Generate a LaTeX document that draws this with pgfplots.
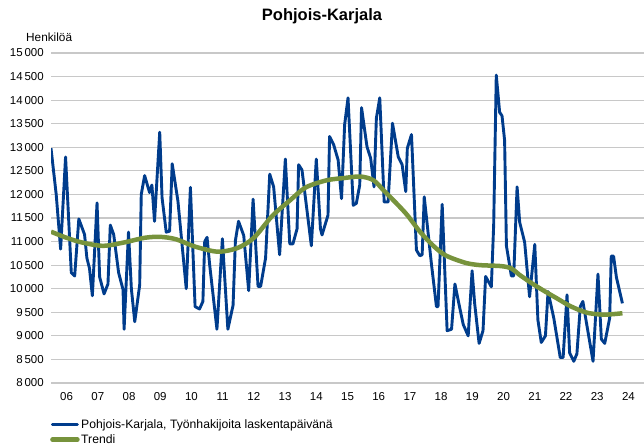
\documentclass[border=0pt]{standalone}
\usepackage{fontspec}
\setmainfont{Liberation Sans}
\usepackage{pgfplots}
\pgfplotsset{compat=1.18}
\definecolor{sblue}{RGB}{0,60,140}
\definecolor{sgreen}{RGB}{119,147,60}
\definecolor{sgrid}{RGB}{200,200,200}
\begin{document}
\begin{tikzpicture}
\useasboundingbox (0pt,0pt) rectangle (644pt,445pt);
\node[font=\bfseries\fontsize{16.5}{18}\selectfont] at (322pt,429pt) {Pohjois-Karjala};
\node[anchor=west,inner sep=0pt,font=\fontsize{11.8}{13}\selectfont] at (26pt,408pt) {Henkilöä};
\begin{axis}[
  at={(51pt,62pt)}, anchor=south west,
  scale only axis, width=593pt, height=330pt,
  xmin=0, xmax=228, ymin=8000, ymax=15000,
  axis line style={draw=none},
  major tick length=0pt,
  ytick={8000,8500,...,15000},
  ymajorgrids, grid style={sgrid, line width=1.2pt},
  xtick={6,18,...,222},
  xticklabels={06,07,08,09,10,11,12,13,14,15,16,17,18,19,20,21,22,23,24},
  scaled y ticks=false,
  /pgf/number format/assume math mode=true,
  yticklabel style={/pgf/number format/fixed, /pgf/number format/1000 sep={\,}, font=\fontsize{11.5}{13}\selectfont, inner sep=0pt, xshift=-7pt},
  xticklabel style={font=\fontsize{11.5}{13}\selectfont, inner sep=0pt, yshift=-9pt},
  legend style={at={(0,0)}, anchor=north west, xshift=-1pt, yshift=-35pt, draw=none, fill=none,
     font=\fontsize{12.2}{13}\selectfont, inner sep=0pt, row sep=1.5pt, nodes={inner sep=1.5pt}},
  legend cell align=left,
  legend image code/.code={\draw[#1, line cap=round] (0pt,0pt) -- (25pt,0pt);},
]
\addplot[sblue, line width=2.9pt, line join=round] coordinates {
(0,12980) (2.0,12000) (3.7,10840) (5.6,12795) (7.8,10340) (9.1,10270) (10.7,11480)
(12.9,11150) (13.8,10650) (14.8,10430) (15.9,9850) (17.7,11820) (18.7,10250) (20.4,9890)
(21.9,10100) (22.8,11350) (24.1,11150) (26.0,10340) (27.7,9980) (28.1,9140) (29.8,11200)
(30.9,10000) (32.2,9300) (34.1,10080) (34.7,12000) (36.0,12400) (37.9,12040) (38.8,12200)
(39.8,11430) (41.8,13320) (42.7,11930) (44.3,11200) (45.6,11220) (46.6,12650) (48.8,11860)
(52.0,10000) (53.6,12150) (55.4,9620) (57.1,9570) (58.4,9730) (59.1,11000) (60.0,11090)
(61.0,10510) (63.8,9140) (65.9,11060) (66.5,10500) (68.0,9140) (70.0,9650) (70.9,11020)
(72.1,11430) (74.1,11130) (76.0,9960) (77.7,11900) (79.6,10050) (80.6,10050) (82.5,10650)
(84.1,12430) (85.6,12160) (87.9,10720) (90.1,12750) (91.8,10950) (93.0,10950) (94.6,11270)
(95.2,12630) (96.5,12520) (100.1,10910) (102.0,12750) (103.6,11270) (104.2,11140) (106.5,11560)
(107.1,13230) (108.7,13050) (110.4,12730) (111.7,11910) (112.9,13480) (114.2,14050) (116.2,11770)
(117.4,11810) (118.7,12200) (119.4,13840) (121.5,13010) (122.9,12770) (124.2,12160) (125.1,13620)
(126.4,14050) (128.1,11840) (129.6,11840) (131.3,13510) (133.5,12800) (135.0,12630) (136.4,12060)
(137.0,12980) (138.6,13270) (140.5,10820) (141.8,10700) (142.7,10720) (143.5,11950) (146.3,10510)
(148.2,9620) (148.8,9620) (150.4,11790) (152.3,9110) (154.0,9140) (155.3,10100) (156.8,9690)
(158.5,9240) (160.4,9000) (161.9,10380) (162.9,9680) (164.6,8840) (166.1,9110) (167.1,10260)
(169.3,10040) (170.2,11350) (171.2,14530) (172.5,13740) (173.4,13670) (174.4,13150) (175.1,10910)
(177.0,10270) (177.9,10270) (179.2,12160) (180.2,11410) (182.1,10990) (184.0,9830) (186.0,10940)
(187.2,9340) (188.5,8860) (190.1,9000) (191.1,9940) (193.3,9380) (195.8,8540) (196.9,8540)
(198.4,9870) (199.4,8640) (201.0,8460) (202.2,8620) (203.5,9620) (204.5,9730) (205.8,9300)
(208.4,8460) (210.3,10310) (211.6,8930) (212.9,8840) (214.8,9380) (215.4,10690) (216.3,10690)
(217.4,10240) (219.7,9690)
};
\addlegendentry{Pohjois-Karjala, Työnhakijoita laskentapäivänä}
\addplot[sgreen, line width=4.5pt, smooth, tension=0.5] coordinates {
(0,11210) (6,11080) (12,10980) (20,10910) (28,10980) (36,11080) (42,11100) (48,11050)
(55,10900) (62,10800) (66,10790) (72,10870) (78,11080) (85,11540) (92,11880) (98,12150)
(106,12300) (113,12350) (119,12380) (124,12300) (128,12080) (133,11800) (137,11560)
(142,11200) (147,10910) (151,10730) (155,10630) (160,10540) (165,10500) (173,10480)
(177,10430) (180,10300) (185,10110) (190,9940) (195,9780) (199,9650) (203,9550)
(207,9480) (213,9450) (219.7,9480)
};
\addlegendentry{Trendi}
\end{axis}
\end{tikzpicture}
\end{document}
